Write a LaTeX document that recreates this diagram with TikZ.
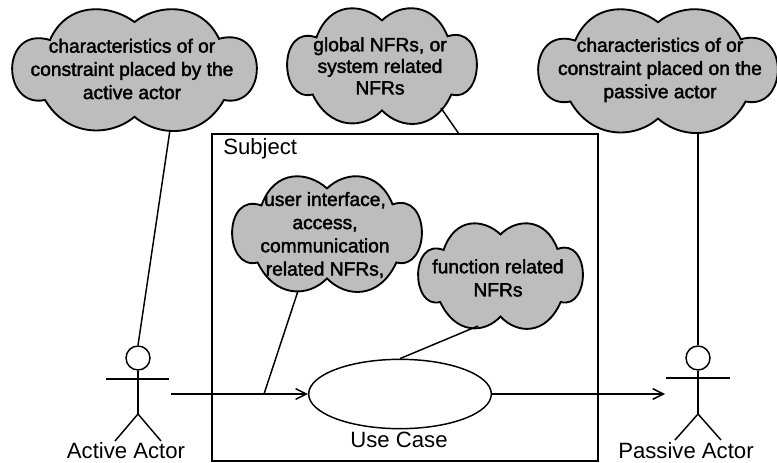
\documentclass[tikz,border=0pt]{standalone}
\usepackage{fontspec}
\setmainfont{Liberation Sans}
\newfontfamily\blurfont[FakeBold=2]{Liberation Sans}
\usetikzlibrary{arrows.meta,shapes.geometric,positioning}
\definecolor{cloudgray}{gray}{0.74}
\tikzset{
  cloudline/.style={draw=black,fill=cloudgray,line width=1.4pt},
  cloudtext/.style={align=center,font=\blurfont\fontsize{14.4}{17.4}\selectfont,inner sep=0pt},
  plaintext/.style={font=\fontsize{16.6}{20}\selectfont,inner sep=0pt},
  wire/.style={line width=1.1pt},
  head/.style={circle,draw,line width=1.1pt,minimum size=18pt,inner sep=0pt}
}
% #1,#2 centre, #3,#4 half width and half height
\newcommand{\nfrcloud}[4]{
  \path[cloudline,shift={(#1,#2)},xscale=#3,yscale=#4] (-0.69,-0.5)
    .. controls (-0.55,-1.15) and (-0.2,-1.1) .. (0,-0.8)
    .. controls (0.2,-1.12) and (0.55,-1.12) .. (0.69,-0.52)
    .. controls (1.1,-0.75) and (1.09,0.65) .. (0.73,0.5)
    .. controls (0.55,1.15) and (0.2,1.12) .. (0,0.78)
    .. controls (-0.2,1.12) and (-0.55,1.12) .. (-0.73,0.5)
    .. controls (-1.09,0.65) and (-1.1,-0.75) .. (-0.69,-0.5) -- cycle;
}
\begin{document}
\begin{tikzpicture}[x=0.75pt,y=-0.75pt,>={Straight Barb[length=8pt,width=8pt]}]
            \useasboundingbox (0,0) rectangle (777,463);
            \node[draw,line width=1.1pt,minimum width=289.5pt,minimum height=245pt,inner sep=0pt] (subject) at (405,297.5) {};% the box
            \node[plaintext,anchor=west] (subjectlabel) at (223,149) {Subject};
            % clouds
            \nfrcloud{134.5}{70}{122.5}{60}
            \nfrcloud{382}{66}{95}{57}
            \nfrcloud{658}{71}{120}{61}
            \nfrcloud{327}{234}{95}{57}
            \nfrcloud{500.5}{276}{82.5}{52}
            \node[cloudtext] (activetext) at (132,69) {characteristics of or\\constraint placed by the\\active actor};
            \node[cloudtext,font=\blurfont\fontsize{14.4}{16.2}\selectfont] (globaltext) at (380,66) {global NFRs, or\\system related\\NFRs};
            \node[cloudtext] (passivetext) at (660,70) {characteristics of or\\constraint placed on the\\passive actor};
            \node[cloudtext] (usertext) at (325,235) {user interface,\\access,\\communication\\related NFRs,};
            \node[cloudtext] (functiontext) at (498,278) {function related\\NFRs};
            \coordinate (activefoot) at (170,130);
            \coordinate (globalfoot) at (441,108);
            \coordinate (passivefoot) at (698,132);
            \coordinate (userfoot) at (298,291);
            \coordinate (functionfoot) at (478,326);
            \coordinate (subjecttop) at (459,134);
            % use case
            \node[ellipse,draw,line width=1.1pt,minimum width=137pt,minimum height=52pt,inner sep=0pt] (usecase) at (400,394) {};
            \node[plaintext] (usecaselabel) at (399,440) {Use Case};
            % active actor
            \node[head] (activehead) at (138,358) {};
            \coordinate (activehip) at (138,414);
            \coordinate (activearml) at (106,379);
            \coordinate (activearmr) at (169,379);
            \coordinate (activelegl) at (115,441);
            \coordinate (activelegr) at (161,441);
            \coordinate (activehand) at (171,394);
            \draw[wire] (activehead) -- (activehip);
            \draw[wire] (activearml) -- (activearmr);
            \draw[wire] (activelegl) -- (activehip) -- (activelegr);
            \node[plaintext] (activelabel) at (126,451) {Active Actor};
            % passive actor
            \node[head] (passivehead) at (698,358) {};
            \coordinate (passivehip) at (698,414);
            \coordinate (passivearml) at (666,378);
            \coordinate (passivearmr) at (730,378);
            \coordinate (passivelegl) at (675,440);
            \coordinate (passivelegr) at (721,440);
            \coordinate (passivehand) at (665,394);
            \draw[wire] (passivehead) -- (passivehip);
            \draw[wire] (passivearml) -- (passivearmr);
            \draw[wire] (passivelegl) -- (passivehip) -- (passivelegr);
            \node[plaintext] (passivelabel) at (686,451) {Passive Actor};
            % connectors
            \coordinate (branch) at (264,394);
            \draw[wire,->] (activehand) -- (usecase.west);
            \draw[wire,->] (usecase.east) -- (passivehand);
            \draw[wire] (activefoot) -- (activehead.north);
            \draw[wire] (passivefoot) -- (passivehead.north);
            \draw[wire] (globalfoot) -- (subjecttop);
            \draw[wire] (userfoot) -- (branch);
            \draw[wire] (functionfoot) -- (usecase.north);
        \end{tikzpicture}
\end{document}
